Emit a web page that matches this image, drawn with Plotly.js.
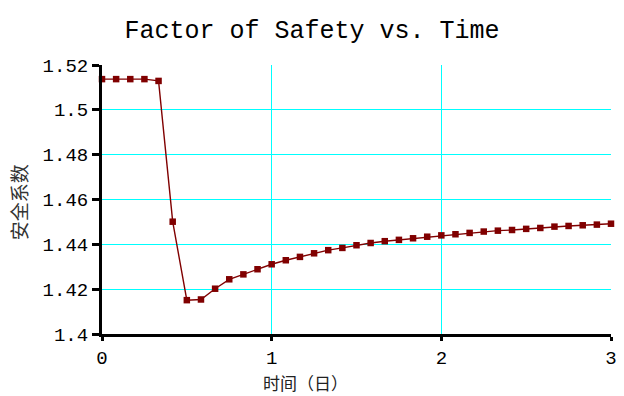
<!DOCTYPE html>
<html><head><meta charset="utf-8">
<script src="https://cdn.plot.ly/plotly-3.0.1.min.js"></script>
<style>html,body{margin:0;padding:0;background:#fff}#chart{width:624px;height:396px}</style>
</head><body><div id="chart"></div>
<script>
const timeDays = [0, 0.0833, 0.1667, 0.25, 0.3333, 0.4167, 0.5, 0.5833, 0.6667, 0.75, 0.8333, 0.9167,
  1.0, 1.0833, 1.1667, 1.25, 1.3333, 1.4167, 1.5, 1.5833, 1.6667, 1.75, 1.8333, 1.9167,
  2.0, 2.0833, 2.1667, 2.25, 2.3333, 2.4167, 2.5, 2.5833, 2.6667, 2.75, 2.8333, 2.9167, 3.0];
const safetyFactor = [1.5137, 1.5137, 1.5137, 1.5137, 1.5129, 1.4501, 1.4151, 1.4154, 1.4202, 1.4244, 1.4266, 1.4289,
  1.4311, 1.4329, 1.4344, 1.4360, 1.4374, 1.4384, 1.4396, 1.4406, 1.4414, 1.4420, 1.4427, 1.4434,
  1.4440, 1.4445, 1.4451, 1.4457, 1.4461, 1.4464, 1.4469, 1.4473, 1.4479, 1.4482, 1.4485, 1.4488, 1.4492];
const yTickVals = [1.4, 1.42, 1.44, 1.46, 1.48, 1.5, 1.52];
const yTickText = ["1.4", "1.42", "1.44", "1.46", "1.48", "1.5", "1.52"];
const xTickVals = [0, 1, 2, 3];
const xTickText = ["0", "1", "2", "3"];
const titleText = "Factor of Safety vs. Time";
const xTitle = "时间（日）";
const yTitle = "安全系数";

const mono = "Liberation Mono, DejaVu Sans Mono, monospace";
const cjk = "Noto Sans CJK SC, sans-serif";

Plotly.newPlot("chart", [{
  x: timeDays, y: safetyFactor, type: "scatter", mode: "lines+markers",
  line: {color: "#800000", width: 1.4},
  marker: {symbol: "square", size: 6.5, color: "#800000"},
  cliponaxis: false, showlegend: false
}], {
  width: 624, height: 396,
  margin: {l: 102, r: 13, t: 65, b: 62},
  paper_bgcolor: "#fff", plot_bgcolor: "#fff",
  title: {text: titleText, font: {family: mono, size: 25, color: "#000"}, x: 0.5, xref: "container", xanchor: "center", y: 0.925, yref: "container", yanchor: "middle"},
  xaxis: {range: [0, 3], tickvals: xTickVals, ticktext: xTickText, showgrid: true, gridcolor: "#00ffff", gridwidth: 1,
    showline: true, linecolor: "#000", linewidth: 3, ticks: "outside", ticklen: 4, tickwidth: 3, tickcolor: "#000",
    tickfont: {family: mono, size: 19, color: "#000"}, zeroline: false, fixedrange: true},
  yaxis: {range: [1.4, 1.52], tickvals: yTickVals, ticktext: yTickText, showgrid: true, gridcolor: "#00ffff", gridwidth: 1,
    showline: true, linecolor: "#000", linewidth: 3, ticks: "outside", ticklen: 7, tickwidth: 3, tickcolor: "#000",
    tickfont: {family: mono, size: 19, color: "#000"}, zeroline: false, fixedrange: true},
  annotations: [
    {text: xTitle, xref: "paper", yref: "paper", x: 0.399, y: -0.18, xanchor: "center", yanchor: "middle", showarrow: false,
     borderpad: 0, font: {family: cjk, size: 17, color: "#222"}},
    {text: yTitle, xref: "paper", yref: "paper", x: -0.165, y: 0.49, xanchor: "center", yanchor: "middle", textangle: -90, showarrow: false,
     font: {family: cjk, size: 19, color: "#333"}}
  ]
}, {staticPlot: true});
</script></body></html>
